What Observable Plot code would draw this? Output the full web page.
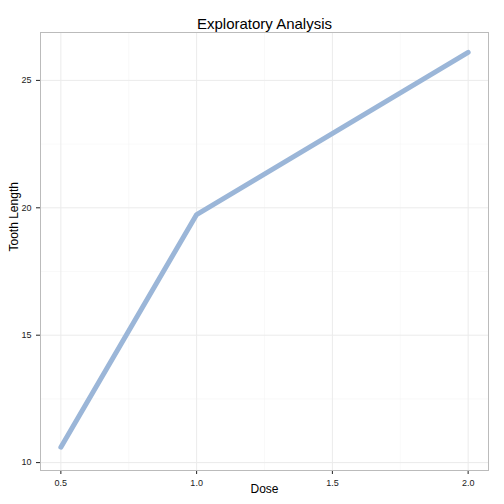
<!DOCTYPE html>
<html><head><meta charset="utf-8">
<script src="https://cdn.jsdelivr.net/npm/d3@7"></script>
<script src="https://cdn.jsdelivr.net/npm/@observablehq/plot@0.6"></script>
<style>body{margin:0;background:#fff}</style>
</head><body><div id="chart"></div>
<script>
const doses = [0.5, 1.0, 2.0];
const meanLen = [10.605, 19.735, 26.1];
const xTicks = [0.5, 1.0, 1.5, 2.0];
const xMinor = [0.75, 1.25, 1.75];
const yTicks = [10, 15, 20, 25];
const yMinor = [12.5, 17.5, 22.5];

const data = doses.map((d, i) => ({dose: d, len: meanLen[i]}));

const plot = Plot.plot({
  width: 504, height: 504,
  marginLeft: 40, marginRight: 16, marginTop: 32, marginBottom: 34,
  style: {fontFamily: "Liberation Sans, Arial, sans-serif", fontSize: "9px", color: "#222"},
  x: {domain: [0.425, 2.075], ticks: xTicks, tickFormat: d3.format(".1f"), label: null, tickSize: 4},
  y: {domain: [9.69, 26.88], ticks: yTicks, label: null, tickSize: 4},
  marks: [
    Plot.gridX(xMinor, {stroke: "#f2f2f2", strokeOpacity: 1, strokeWidth: 0.5}),
    Plot.gridY(yMinor, {stroke: "#f2f2f2", strokeOpacity: 1, strokeWidth: 0.5}),
    Plot.gridX(xTicks, {stroke: "#ebebeb", strokeOpacity: 1}),
    Plot.gridY(yTicks, {stroke: "#ebebeb", strokeOpacity: 1}),
    Plot.frame({stroke: "#bbb"}),
    Plot.line(data, {x: "dose", y: "len", stroke: "#9bb6d8", strokeWidth: 5}),
    Plot.text(["Exploratory Analysis"], {frameAnchor: "top", lineAnchor: "bottom", dy: -4, fontSize: 15, fill: "#000"}),
    Plot.text(["Dose"], {frameAnchor: "bottom", lineAnchor: "top", dy: 14, fontSize: 12, fill: "#000"}),
    Plot.text(["Tooth Length"], {frameAnchor: "left", dx: -26, rotate: -90, fontSize: 12, fill: "#000"})
  ]
});
document.getElementById("chart").appendChild(plot);
</script>
</body></html>
